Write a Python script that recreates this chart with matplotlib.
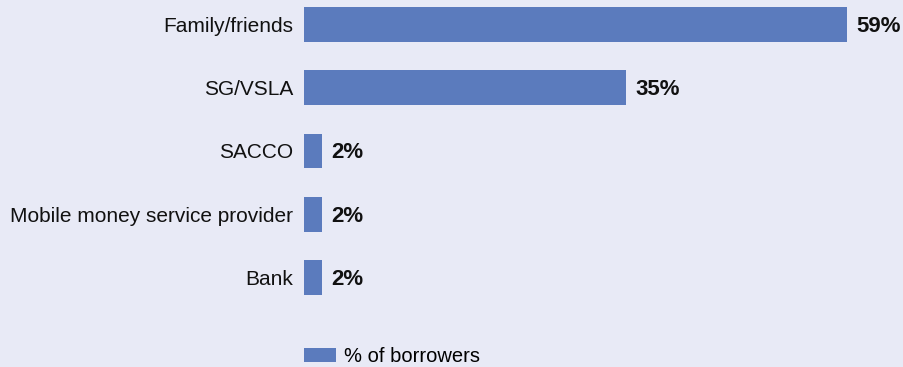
import matplotlib
matplotlib.use("Agg")
import matplotlib.pyplot as plt

categories = ["Family/friends", "SG/VSLA", "SACCO", "Mobile money service provider", "Bank"]
values = [59, 35, 2, 2, 2]
series_name = "% of borrowers"

BG = "#E8EAF6"
BAR = "#5B7BBD"

plt.rcParams["font.family"] = ["Liberation Sans", "DejaVu Sans"]

fig = plt.figure(figsize=(9.04, 3.67), dpi=100, facecolor=BG)
ax = fig.add_axes([304 / 904, 0, 1 - 304 / 904, 1])
ax.set_facecolor(BG)

y = list(range(len(categories)))
bars = ax.barh(y, values, height=0.553, color=BAR, label=series_name)
ax.set_xlim(0, 600 / 9.2)
ax.set_ylim((367 - 24.5) / 63.25, -24.5 / 63.25)

ax.set_yticks(y)
ax.set_yticklabels(categories, fontsize=15, color="#111111")
ax.tick_params(axis="y", length=0, pad=8)
ax.set_xticks([])
for s in ax.spines.values():
    s.set_visible(False)

for bar, v in zip(bars, values):
    ax.text(bar.get_width() + 1.0, bar.get_y() + bar.get_height() / 2 + 0.03, f"{v}%",
            va="center", ha="left", fontsize=16, fontweight="bold", color="#111111")

fig.legend(handles=[bars], labels=[series_name], loc="lower left",
           bbox_to_anchor=(304 / 904, 0.002), frameon=False, fontsize=14.5,
           handlelength=1.6, handleheight=0.72, handletextpad=0.4, borderpad=0,
           borderaxespad=0)

fig.savefig("out.png", dpi=100, facecolor=BG)
